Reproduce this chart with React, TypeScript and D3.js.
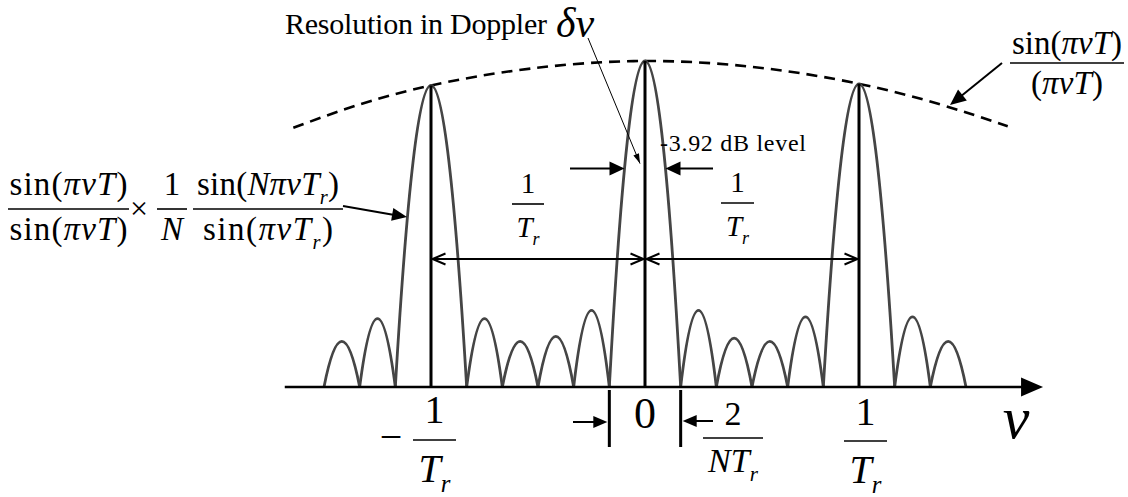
import React from 'react';
import * as d3 from 'd3';

// Lobes of the pulse-train Doppler response; nulls in units of 1/(N·Tr), N = 6
const lobeStart = [-9, -8, -7, -5, -4, -3, -2, -1, 1, 2, 3, 4, 5, 7, 8];
const lobeEnd = [-8, -7, -5, -4, -3, -2, -1, 1, 2, 3, 4, 5, 7, 8, 9];
const lobePeak = [0.14, 0.21, 0.925, 0.21, 0.14, 0.155, 0.235, 1.0, 0.235, 0.15, 0.14, 0.215, 0.93, 0.215, 0.14];

// Grating lobes at multiples of 1/Tr
const gratingNu = [-6, 0, 6];
const gratingAmp = [0.925, 1.0, 0.93];

// sin(πνT)/(πνT) envelope
const envelopeNu = [-9.86, -6, 0, 6, 10.17];
const envelopeAmp = [0.795, 0.925, 1.0, 0.93, 0.8];

// ν-axis extent and the -3.92 dB level
const axisNu = [-10.1, 11.16];
const resolutionLevel = 0.67;

const SERIF = '"Liberation Serif", "Times New Roman", serif';

type Part = [string, 'r' | 'i' | 's'];

function MathText({ x, y, fs, parts, anchor = 'middle', tl }: { x: number; y: number; fs: number; parts: Part[]; anchor?: string; tl?: number }) {
  let shifted = false;
  const spans = parts.map(([t, k], j) => {
    let dy = 0;
    if (k === 's' && !shifted) { dy = fs * 0.26; shifted = true; }
    else if (k !== 's' && shifted) { dy = -fs * 0.26; shifted = false; }
    return (
      <tspan key={j} dy={dy || undefined} fontStyle={k === 'r' ? 'normal' : 'italic'} fontSize={k === 's' ? fs * 0.62 : fs}>
        {t}
      </tspan>
    );
  });
  return (
    <text x={x} y={y} fontSize={fs} textAnchor={anchor} fontFamily={SERIF} fill="#000"
      textLength={tl} lengthAdjust={tl ? 'spacing' : undefined}>
      {spans}
    </text>
  );
}

function Frac({ x0, x1, bar, fs, num, den, numTl, denTl, numUp = 16, denDown = 30 }: any) {
  const cx = (x0 + x1) / 2;
  return (
    <g>
      <MathText x={cx} y={bar - numUp} fs={fs} parts={num} tl={numTl} />
      <line x1={x0} x2={x1} y1={bar} y2={bar} stroke="#000" strokeWidth={1.6} />
      <MathText x={cx} y={bar + denDown} fs={fs} parts={den} tl={denTl} />
    </g>
  );
}

// filled triangular head with its tip at (tx, ty), pointing away from (fx, fy)
function head(tx: number, ty: number, fx: number, fy: number, len: number, half: number) {
  const a = Math.atan2(ty - fy, tx - fx);
  const bx = tx - len * Math.cos(a), by = ty - len * Math.sin(a);
  const px = -Math.sin(a) * half, py = Math.cos(a) * half;
  return `${tx},${ty} ${bx + px},${by + py} ${bx - px},${by - py}`;
}

function openHead(tx: number, ty: number, dir: number, len: number, half: number) {
  return `M${tx - dir * len},${ty - half}L${tx},${ty}L${tx - dir * len},${ty + half}`;
}

export default function App() {
  const x = d3.scaleLinear().domain([-6, 6]).range([431, 859]);
  const y = d3.scaleLinear().domain([0, 1]).range([387, 61]);
  const y0 = y(0);

  const lobePath = (i: number) => {
    const p = d3.path();
    const xa = x(lobeStart[i]), xb = x(lobeEnd[i]);
    p.moveTo(xa, y0);
    p.quadraticCurveTo((xa + xb) / 2, y(2 * lobePeak[i]), xb, y0);
    return p.toString();
  };

  const envelope = d3.line<number>()
    .x((d) => x(d))
    .y((_, i) => y(envelopeAmp[i]))
    .curve(d3.curveNatural)(envelopeNu) as string;

  // flanks of the main lobe at the -3.92 dB level
  const mainIdx = lobeStart.indexOf(-1);
  const halfW = (x(lobeEnd[mainIdx]) - x(lobeStart[mainIdx])) / 2;
  const flank = halfW * Math.sqrt(1 - resolutionLevel / lobePeak[mainIdx]);
  const cx0 = x(0);
  const yRes = y(resolutionLevel);

  const ax0 = x(axisNu[0]), ax1 = x(axisNu[1]);
  const spanY = 259;
  const nullL = x(-1), nullR = x(1);

  return (
    <svg width={1128} height={497} style={{ position: 'absolute', left: 0, top: 0, background: '#fff' }}
      fontFamily={SERIF}>
      <defs>
        <filter id="soft" x="-5%" y="-5%" width="110%" height="110%">
          <feGaussianBlur stdDeviation="0.7" />
        </filter>
      </defs>

      {/* envelope */}
      <path d={envelope} fill="none" stroke="#000" strokeWidth={2.6} strokeDasharray="11,7" />

      {/* lobes */}
      <g filter="url(#soft)">
        {lobeStart.map((_, i) => (
          <path key={i} d={lobePath(i)} fill="none" stroke="#444" strokeWidth={2.8} />
        ))}
      </g>

      {/* grating lobe markers */}
      {gratingNu.map((n, i) => (
        <line key={i} x1={x(n)} x2={x(n)} y1={y(gratingAmp[i])} y2={y0} stroke="#000" strokeWidth={3} />
      ))}

      {/* ν axis */}
      <line x1={ax0} x2={ax1 - 18} y1={y0} y2={y0} stroke="#000" strokeWidth={2.6} />
      <polygon points={head(ax1, y0, ax0, y0, 22, 9.5)} fill="#000" />
      <MathText x={1016} y={438} fs={60} parts={[['ν', 'i']]} />

      {/* 1/Tr spacings */}
      {[[gratingNu[0], gratingNu[1]], [gratingNu[1], gratingNu[2]]].map(([a, b], i) => (
        <g key={i} stroke="#000" strokeWidth={2} fill="none">
          <line x1={x(a) + 1.5} x2={x(b) - 1.5} y1={spanY} y2={spanY} />
          <path d={openHead(x(a) + 1.5, spanY, -1, 13, 5.5)} />
          <path d={openHead(x(b) - 1.5, spanY, 1, 13, 5.5)} />
        </g>
      ))}
      <Frac x0={512} x1={544} bar={204} fs={29} num={[['1', 'r']]} den={[['T', 'i'], ['r', 's']]} numUp={11} denDown={33} />
      <Frac x0={721} x1={754} bar={203} fs={29} num={[['1', 'r']]} den={[['T', 'i'], ['r', 's']]} numUp={11} denDown={33} />

      {/* -3.92 dB resolution */}
      <line x1={570} x2={cx0 - flank - 12} y1={yRes} y2={yRes} stroke="#000" strokeWidth={2} />
      <polygon points={head(cx0 - flank, yRes, 570, yRes, 15, 7)} fill="#000" />
      <line x1={713} x2={cx0 + flank + 12} y1={yRes} y2={yRes} stroke="#000" strokeWidth={2} />
      <polygon points={head(cx0 + flank, yRes, 713, yRes, 15, 7)} fill="#000" />
      <text x={660} y={151} fontSize={24} textLength={146} lengthAdjust="spacing">-3.92 dB level</text>

      <text x={285} y={34} fontSize={30} textLength={262} lengthAdjust="spacing">Resolution in Doppler</text>
      <MathText x={556} y={37} fs={42} anchor="start" parts={[['δν', 'i']]} />
      <line x1={588} y1={38} x2={cx0 - 5} y2={yRes - 5} stroke="#000" strokeWidth={1} />
      <polygon points={head(cx0 - 5, yRes - 5, 588, 38, 10, 3)} fill="#000" />

      {/* envelope label */}
      <Frac x0={1010} x1={1124} bar={63} fs={33}
        num={[['sin(', 'r'], ['πνT', 'i'], [')', 'r']]}
        den={[['(', 'r'], ['πνT', 'i'], [')', 'r']]} numTl={110} denTl={72} numUp={9} denDown={31} />
      <line x1={1002} y1={63} x2={960} y2={97} stroke="#000" strokeWidth={2} />
      <polygon points={head(950, 105, 1002, 63, 16, 7)} fill="#000" />

      {/* response label */}
      <Frac x0={8} x1={129} bar={209} fs={33}
        num={[['sin(', 'r'], ['πνT', 'i'], [')', 'r']]}
        den={[['sin(', 'r'], ['πνT', 'i'], [')', 'r']]} numTl={118} denTl={118} numUp={14} denDown={31} />
      <text x={139} y={219} fontSize={32} textAnchor="middle">×</text>
      <Frac x0={157} x1={187} bar={209} fs={33} num={[['1', 'r']]} den={[['N', 'i']]} numUp={14} denDown={31} />
      <Frac x0={193} x1={343} bar={209} fs={33}
        num={[['sin(', 'r'], ['NπνT', 'i'], ['r', 's'], [')', 'r']]}
        den={[['sin(', 'r'], ['πνT', 'i'], ['r', 's'], [')', 'r']]} numTl={142} denTl={130} numUp={14} denDown={31} />
      <line x1={343} y1={206} x2={393} y2={214.7} stroke="#000" strokeWidth={2} />
      <polygon points={head(407, 217, 343, 206, 15, 6.5)} fill="#000" />

      {/* ν-axis labels */}
      <text x={391} y={450} fontSize={40} textAnchor="middle">−</text>
      <Frac x0={413} x1={456} bar={440} fs={40} num={[['1', 'r']]} den={[['T', 'i'], ['r', 's']]} numUp={17} denDown={42} />
      <text x={cx0} y={428} fontSize={44} textAnchor="middle">0</text>
      <Frac x0={844} x1={887} bar={441} fs={40} num={[['1', 'r']]} den={[['T', 'i'], ['r', 's']]} numUp={16} denDown={42} />

      {/* main-lobe width 2/(N·Tr) */}
      <line x1={nullL} x2={nullL} y1={390} y2={447} stroke="#000" strokeWidth={3} />
      <line x1={nullR} x2={nullR} y1={390} y2={447} stroke="#000" strokeWidth={3} />
      <line x1={573} x2={nullL - 12} y1={422} y2={422} stroke="#000" strokeWidth={2} />
      <polygon points={head(nullL - 2, 422, 573, 422, 14, 6)} fill="#000" />
      <line x1={713} x2={nullR + 12} y1={421} y2={421} stroke="#000" strokeWidth={2} />
      <polygon points={head(nullR + 2, 421, 713, 421, 14, 6)} fill="#000" />
      <Frac x0={703} x1={763} bar={438} fs={34} num={[['2', 'r']]} den={[['NT', 'i'], ['r', 's']]} numUp={13} denDown={34} />
    </svg>
  );
}
